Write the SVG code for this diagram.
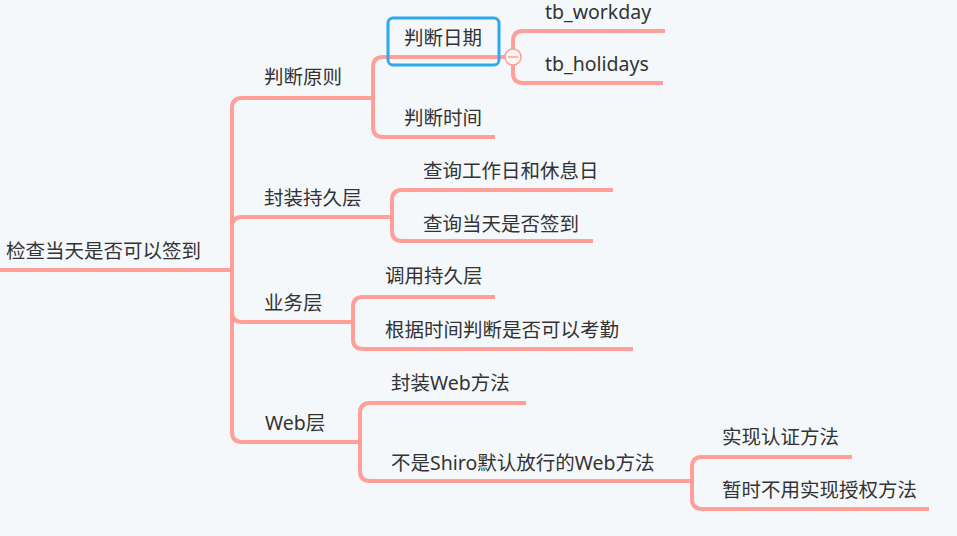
<svg xmlns="http://www.w3.org/2000/svg" width="957" height="536" viewBox="0 0 957 536">
<style>
.bg{fill:#f5f8fa}
.c path{fill:none;stroke:#ff9f97;stroke-width:4;stroke-linecap:butt}
text{font-family:"Noto Sans","Noto Sans CJK SC",sans-serif;font-size:19.5px;fill:#333333}
.sel{fill:none;stroke:#2ea8ef;stroke-width:3}
.fold{fill:#fdf5f4;stroke:#ff9f97;stroke-width:1.5}
.minus{stroke:#ff9f97;stroke-width:1.5}
</style>
<rect class="bg" x="0" y="0" width="957" height="536"/>
<g id="connectors" class="c">
<path d="M0 270 H232"/>
<path d="M232 270 V108 Q232 98 242 98 H373"/>
<path d="M232 270 V227 Q232 217 242 217 H392"/>
<path d="M232 270 V312 Q232 322 242 322 H353"/>
<path d="M232 270 V432 Q232 442 242 442 H360"/>
<path d="M373 98 V67 Q373 57 383 57 H505"/>
<path d="M373 98 V127 Q373 137 383 137 H495"/>
<path d="M513 57 V41 Q513 31 523 31 H665"/>
<path d="M513 57 V73 Q513 83 523 83 H663"/>
<path d="M392 217 V200 Q392 190 402 190 H613"/>
<path d="M392 217 V231 Q392 241 402 241 H593"/>
<path d="M353 322 V307 Q353 297 363 297 H495"/>
<path d="M353 322 V339 Q353 349 363 349 H633"/>
<path d="M360 442 V413 Q360 403 370 403 H526"/>
<path d="M360 442 V471 Q360 481 370 481 H692"/>
<path d="M692 481 V467 Q692 457 702 457 H852"/>
<path d="M692 481 V499 Q692 509 702 509 H929"/>
</g>
<g id="root"><text x="6" y="258">检查当天是否可以签到</text></g>
<g id="n-panduanyuanze"><text x="264" y="84">判断原则</text></g>
<g id="n-panduanriqi">
<rect class="sel" x="388" y="18" width="111" height="47" rx="5"/>
<text x="404" y="45">判断日期</text>
</g>
<g id="fold-toggle">
<circle class="fold" cx="513" cy="57" r="8"/>
<line class="minus" x1="508" y1="57" x2="518" y2="57"/>
</g>
<g id="n-tb-workday"><text x="545" y="19">tb_workday</text></g>
<g id="n-tb-holidays"><text x="545" y="71">tb_holidays</text></g>
<g id="n-panduanshijian"><text x="404" y="125">判断时间</text></g>
<g id="n-fengzhuang"><text x="264" y="205">封装持久层</text></g>
<g id="n-chaxun1"><text x="423" y="178">查询工作日和休息日</text></g>
<g id="n-chaxun2"><text x="423" y="231">查询当天是否签到</text></g>
<g id="n-yewu"><text x="264" y="310">业务层</text></g>
<g id="n-diaoyong"><text x="385" y="283">调用持久层</text></g>
<g id="n-genju"><text x="385" y="337">根据时间判断是否可以考勤</text></g>
<g id="n-web"><text x="265" y="430">Web层</text></g>
<g id="n-fzweb"><text x="391" y="390">封装Web方法</text></g>
<g id="n-shiro"><text x="391" y="470">不是Shiro默认放行的Web方法</text></g>
<g id="n-renzheng"><text x="722" y="444">实现认证方法</text></g>
<g id="n-shouquan"><text x="722" y="497">暂时不用实现授权方法</text></g>
</svg>
